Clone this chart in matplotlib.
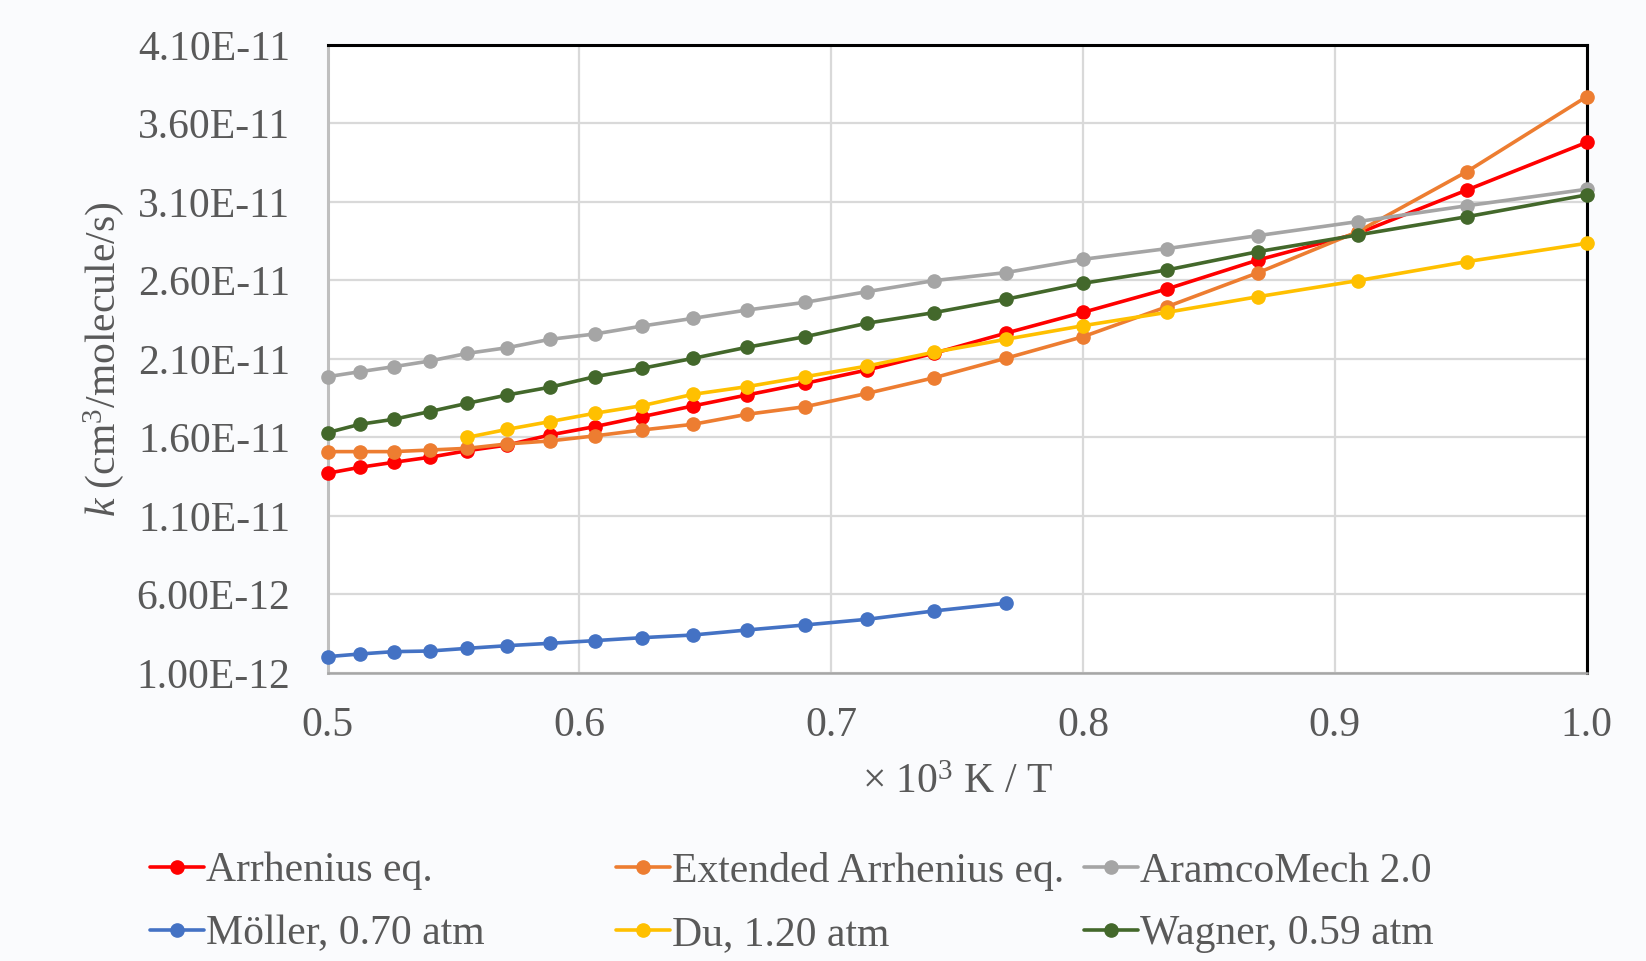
import numpy as np
import matplotlib
matplotlib.use('Agg')
import matplotlib.pyplot as plt

plt.rcParams['font.family'] = ['Liberation Serif', 'DejaVu Serif']
plt.rcParams['mathtext.fontset'] = 'custom'
plt.rcParams['mathtext.rm'] = 'Liberation Serif'
plt.rcParams['mathtext.it'] = 'Liberation Serif:italic'

# temperatures (K); x axis is 1000/T
T_all = [2000, 1950, 1900, 1850, 1800, 1750, 1700, 1650, 1600, 1550, 1500,
         1450, 1400, 1350, 1300, 1250, 1200, 1150, 1100, 1050, 1000]
T_moller = T_all[:15]
T_du = T_all[4:]

# rate constants in units of 1e-11 cm3/molecule/s
arrhenius = [1.372, 1.410, 1.442, 1.474, 1.516, 1.552, 1.616, 1.669, 1.733, 1.801, 1.871,
             1.945, 2.030, 2.136, 2.264, 2.397, 2.546, 2.731, 2.900, 3.176, 3.480]
extended = [1.510, 1.510, 1.510, 1.520, 1.531, 1.559, 1.578, 1.610, 1.648, 1.684, 1.748,
            1.796, 1.881, 1.980, 2.104, 2.242, 2.433, 2.650, 2.911, 3.293, 3.771]
aramco = [1.987, 2.019, 2.051, 2.087, 2.136, 2.172, 2.225, 2.259, 2.310, 2.359, 2.412,
          2.461, 2.529, 2.599, 2.650, 2.735, 2.803, 2.886, 2.975, 3.076, 3.181]
moller = [0.204, 0.221, 0.236, 0.240, 0.257, 0.274, 0.289, 0.306, 0.325, 0.342, 0.374,
          0.406, 0.442, 0.495, 0.544]
du = [1.601, 1.652, 1.701, 1.754, 1.803, 1.875, 1.924, 1.987, 2.055, 2.143, 2.225,
      2.312, 2.397, 2.497, 2.599, 2.720, 2.837]
wagner = [1.631, 1.684, 1.716, 1.765, 1.818, 1.871, 1.920, 1.987, 2.041, 2.104, 2.175,
          2.242, 2.328, 2.395, 2.480, 2.582, 2.667, 2.784, 2.890, 3.006, 3.145]

series = [
    ('Arrhenius eq.', T_all, arrhenius, '#FF0000'),
    ('Extended Arrhenius eq.', T_all, extended, '#ED7D31'),
    ('AramcoMech 2.0', T_all, aramco, '#A5A5A5'),
    ('Möller, 0.70 atm', T_moller, moller, '#4472C4'),
    ('Du, 1.20 atm', T_du, du, '#FFC000'),
    ('Wagner, 0.59 atm', T_all, wagner, '#43682B'),
]

yticks = [1.0e-12, 6.0e-12, 1.1e-11, 1.6e-11, 2.1e-11, 2.6e-11, 3.1e-11, 3.6e-11, 4.1e-11]
xticks = [0.5, 0.6, 0.7, 0.8, 0.9, 1.0]

txt = '#595959'
fs = 30

fig = plt.figure(figsize=(16.46, 9.61), dpi=100, facecolor='#FAFBFD')
ax = fig.add_axes([0.199, 0.2997, 0.765, 0.6535])
ax.set_facecolor('white')

handles = []
for name, T, k, c in series:
    x = 1000.0 / np.array(T)
    h, = ax.plot(x, np.array(k) * 1e-11, color=c, lw=2.6, marker='o', ms=9.5,
                 label=name, solid_capstyle='round', clip_on=False, zorder=3)
    handles.append(h)

ax.set_xlim(0.5, 1.0)
ax.set_ylim(yticks[0], yticks[-1])
ax.set_xticks(xticks)
ax.set_xticklabels(['%.1f' % v for v in xticks])
ax.set_yticks(yticks)
ax.set_yticklabels(['%.2E' % v for v in yticks])
ax.tick_params(axis='both', length=0, labelsize=fs, labelcolor=txt)
ax.tick_params(axis='y', pad=27)
ax.tick_params(axis='x', pad=24)
ax.grid(True, color='#D9D9D9', lw=1.6, zorder=0)
ax.set_axisbelow(True)

ax.spines['top'].set_color('black')
ax.spines['top'].set_linewidth(2.2)
ax.spines['right'].set_color('black')
ax.spines['right'].set_linewidth(2.2)
ax.spines['left'].set_color('#BFBFBF')
ax.spines['left'].set_linewidth(2.2)
ax.spines['bottom'].set_color('#A6A6A6')
ax.spines['bottom'].set_linewidth(1.8)

ax.set_xlabel('× 10$^3$ K / T', fontsize=fs, color=txt, va='center')
ax.xaxis.set_label_coords(0.5, -0.174)
ax.set_ylabel('$k$ (cm$^3$/molecule/s)', fontsize=fs, color=txt, va='center')
ax.yaxis.set_label_coords(-0.178, 0.5)

# legend: three equal-width columns, two rows
col_x = [150 / 1646, 616 / 1646, 1084 / 1646]
for i in range(3):
    pair = [handles[i], handles[i + 3]]
    leg = fig.legend(pair, [h.get_label() for h in pair], loc='upper left',
                     bbox_to_anchor=(col_x[i], 1 - 852 / 961), frameon=False,
                     fontsize=fs, borderpad=0, borderaxespad=0, handlelength=1.3,
                     handletextpad=0.05, labelspacing=0.58, labelcolor=txt)

fig.savefig('out.png', dpi=100, facecolor=fig.get_facecolor())
